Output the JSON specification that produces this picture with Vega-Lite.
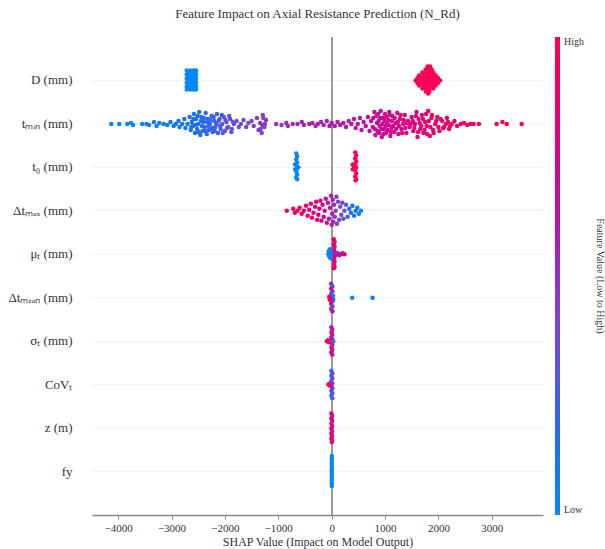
{
"$schema": "https://vega.github.io/schema/vega-lite/v6.json",
"width": 451,
"height": 478,
"autosize": {"type": "none"},
"padding": {"left": 92, "top": 37, "right": 62, "bottom": 34},
"config": {
  "font": "Liberation Serif",
  "view": {"stroke": null},
  "axis": {"labelFont": "Liberation Serif", "titleFont": "Liberation Serif"},
  "legend": {"labelFont": "Liberation Serif", "titleFont": "Liberation Serif"},
  "title": {"font": "Liberation Serif", "fontSize": 13, "fontWeight": "normal", "color": "#333", "offset": 16}
},
"title": {"text": "Feature Impact on Axial Resistance Prediction (N_Rd)", "anchor": "middle"},
"data": {"values": [
{"f":"D","s":-2715,"j":-10,"v":0.02},{"f":"D","s":-2715,"j":-6,"v":0.03},{"f":"D","s":-2715,"j":-2,"v":0.01},{"f":"D","s":-2715,"j":2,"v":0.02},{"f":"D","s":-2715,"j":6,"v":0.04},{"f":"D","s":-2715,"j":9,"v":0.02},
{"f":"D","s":-2650,"j":-10,"v":0.03},{"f":"D","s":-2650,"j":-6,"v":0.02},{"f":"D","s":-2650,"j":-2,"v":0.04},{"f":"D","s":-2650,"j":2,"v":0.01},{"f":"D","s":-2650,"j":6,"v":0.02},{"f":"D","s":-2650,"j":9,"v":0.03},
{"f":"D","s":-2585,"j":-10,"v":0.02},{"f":"D","s":-2585,"j":-6,"v":0.01},{"f":"D","s":-2585,"j":-2,"v":0.03},{"f":"D","s":-2585,"j":2,"v":0.02},{"f":"D","s":-2585,"j":6,"v":0.04},{"f":"D","s":-2585,"j":9,"v":0.02},
{"f":"D","s":-2540,"j":-10,"v":0.03},{"f":"D","s":-2540,"j":-6,"v":0.02},{"f":"D","s":-2540,"j":-2,"v":0.02},{"f":"D","s":-2540,"j":2,"v":0.03},{"f":"D","s":-2540,"j":6,"v":0.01},{"f":"D","s":-2540,"j":9,"v":0.02},
{"f":"D","s":-2682,"j":-8,"v":0.02},{"f":"D","s":-2682,"j":-4,"v":0.03},{"f":"D","s":-2682,"j":0,"v":0.02},{"f":"D","s":-2682,"j":4,"v":0.01},{"f":"D","s":-2682,"j":8,"v":0.03},
{"f":"D","s":-2617,"j":-8,"v":0.02},{"f":"D","s":-2617,"j":-4,"v":0.01},{"f":"D","s":-2617,"j":0,"v":0.03},{"f":"D","s":-2617,"j":4,"v":0.02},{"f":"D","s":-2617,"j":8,"v":0.02},
{"f":"D","s":-2560,"j":-8,"v":0.03},{"f":"D","s":-2560,"j":-4,"v":0.02},{"f":"D","s":-2560,"j":0,"v":0.01},{"f":"D","s":-2560,"j":4,"v":0.03},{"f":"D","s":-2560,"j":8,"v":0.02},
{"f":"D","s":1800,"j":-14,"v":0.97},{"f":"D","s":1845,"j":-14,"v":0.98},
{"f":"D","s":1760,"j":-11,"v":0.97},{"f":"D","s":1820,"j":-11,"v":0.98},{"f":"D","s":1875,"j":-11,"v":0.97},
{"f":"D","s":1700,"j":-8,"v":0.98},{"f":"D","s":1770,"j":-8,"v":0.97},{"f":"D","s":1840,"j":-8,"v":0.98},{"f":"D","s":1905,"j":-8,"v":0.97},
{"f":"D","s":1640,"j":-5,"v":0.97},{"f":"D","s":1720,"j":-5,"v":0.98},{"f":"D","s":1800,"j":-5,"v":0.97},{"f":"D","s":1880,"j":-5,"v":0.98},{"f":"D","s":1950,"j":-5,"v":0.97},
{"f":"D","s":1610,"j":-2.5,"v":0.98},{"f":"D","s":1690,"j":-2.5,"v":0.97},{"f":"D","s":1765,"j":-2.5,"v":0.98},{"f":"D","s":1840,"j":-2.5,"v":0.97},{"f":"D","s":1915,"j":-2.5,"v":0.98},{"f":"D","s":1990,"j":-2.5,"v":0.97},
{"f":"D","s":1575,"j":0,"v":0.97},{"f":"D","s":1650,"j":0,"v":0.98},{"f":"D","s":1725,"j":0,"v":0.97},{"f":"D","s":1800,"j":0,"v":0.98},{"f":"D","s":1875,"j":0,"v":0.97},{"f":"D","s":1950,"j":0,"v":0.98},{"f":"D","s":2035,"j":0,"v":0.97},
{"f":"D","s":1610,"j":2.5,"v":0.97},{"f":"D","s":1690,"j":2.5,"v":0.98},{"f":"D","s":1765,"j":2.5,"v":0.97},{"f":"D","s":1840,"j":2.5,"v":0.98},{"f":"D","s":1915,"j":2.5,"v":0.97},{"f":"D","s":1990,"j":2.5,"v":0.98},
{"f":"D","s":1640,"j":5,"v":0.98},{"f":"D","s":1720,"j":5,"v":0.97},{"f":"D","s":1800,"j":5,"v":0.98},{"f":"D","s":1880,"j":5,"v":0.97},{"f":"D","s":1950,"j":5,"v":0.98},
{"f":"D","s":1700,"j":8,"v":0.97},{"f":"D","s":1770,"j":8,"v":0.98},{"f":"D","s":1840,"j":8,"v":0.97},{"f":"D","s":1905,"j":8,"v":0.98},
{"f":"D","s":1765,"j":11,"v":0.97},{"f":"D","s":1830,"j":11,"v":0.98},{"f":"D","s":1810,"j":13,"v":0.97},
{"f":"tmin","s":-4130,"j":0,"v":0.02},{"f":"tmin","s":-3980,"j":0,"v":0.03},{"f":"tmin","s":-3830,"j":0,"v":0.03},{"f":"tmin","s":-3760,"j":-1,"v":0.04},{"f":"tmin","s":-3720,"j":1,"v":0.04},{"f":"tmin","s":-3550,"j":0,"v":0.05},{"f":"tmin","s":-3470,"j":0,"v":0.05},{"f":"tmin","s":-3420,"j":1,"v":0.06},{"f":"tmin","s":-3330,"j":-2,"v":0.06},{"f":"tmin","s":-3280,"j":2,"v":0.07},{"f":"tmin","s":-3230,"j":-1,"v":0.07},{"f":"tmin","s":-3150,"j":0,"v":0.08},{"f":"tmin","s":-3080,"j":1,"v":0.08},{"f":"tmin","s":-3020,"j":-2,"v":0.09},{"f":"tmin","s":-2960,"j":2,"v":0.09},{"f":"tmin","s":-2920,"j":0,"v":0.1},
{"f":"tmin","s":-2870,"j":-3,"v":0.1},{"f":"tmin","s":-2850,"j":3,"v":0.1},{"f":"tmin","s":-2800,"j":0,"v":0.11},{"f":"tmin","s":-2760,"j":-5,"v":0.11},{"f":"tmin","s":-2740,"j":4,"v":0.12},{"f":"tmin","s":-2700,"j":0,"v":0.12},{"f":"tmin","s":-2660,"j":-7,"v":0.13},{"f":"tmin","s":-2640,"j":6,"v":0.13},{"f":"tmin","s":-2620,"j":-2,"v":0.14},{"f":"tmin","s":-2600,"j":2,"v":0.13},{"f":"tmin","s":-2580,"j":-10,"v":0.14},{"f":"tmin","s":-2560,"j":9,"v":0.15},{"f":"tmin","s":-2540,"j":-5,"v":0.15},{"f":"tmin","s":-2520,"j":5,"v":0.14},{"f":"tmin","s":-2500,"j":0,"v":0.16},{"f":"tmin","s":-2480,"j":-12,"v":0.16},{"f":"tmin","s":-2460,"j":11,"v":0.17},{"f":"tmin","s":-2440,"j":-7,"v":0.17},{"f":"tmin","s":-2420,"j":7,"v":0.18},{"f":"tmin","s":-2400,"j":-2,"v":0.16},{"f":"tmin","s":-2380,"j":3,"v":0.18},{"f":"tmin","s":-2360,"j":-11,"v":0.19},{"f":"tmin","s":-2340,"j":10,"v":0.2},{"f":"tmin","s":-2320,"j":-5,"v":0.19},{"f":"tmin","s":-2300,"j":6,"v":0.2},{"f":"tmin","s":-2280,"j":0,"v":0.21},{"f":"tmin","s":-2250,"j":-8,"v":0.22},{"f":"tmin","s":-2230,"j":8,"v":0.22},{"f":"tmin","s":-2200,"j":-3,"v":0.23},{"f":"tmin","s":-2180,"j":3,"v":0.24},{"f":"tmin","s":-2150,"j":-10,"v":0.25},{"f":"tmin","s":-2130,"j":9,"v":0.25},{"f":"tmin","s":-2100,"j":-5,"v":0.26},{"f":"tmin","s":-2080,"j":5,"v":0.27},{"f":"tmin","s":-2050,"j":0,"v":0.28},{"f":"tmin","s":-2020,"j":-7,"v":0.28},{"f":"tmin","s":-2000,"j":7,"v":0.29},{"f":"tmin","s":-1970,"j":-2,"v":0.3},{"f":"tmin","s":-1940,"j":3,"v":0.31},{"f":"tmin","s":-1900,"j":-5,"v":0.32},{"f":"tmin","s":-1870,"j":5,"v":0.33},{"f":"tmin","s":-1830,"j":0,"v":0.34},{"f":"tmin","s":-1780,"j":-3,"v":0.35},{"f":"tmin","s":-1740,"j":3,"v":0.35},{"f":"tmin","s":-1700,"j":0,"v":0.36},{"f":"tmin","s":-1650,"j":-4,"v":0.37},{"f":"tmin","s":-1600,"j":3,"v":0.38},{"f":"tmin","s":-1560,"j":-1,"v":0.38},{"f":"tmin","s":-1500,"j":-3,"v":0.4},{"f":"tmin","s":-1460,"j":2,"v":0.4},{"f":"tmin","s":-1400,"j":-6,"v":0.41},{"f":"tmin","s":-1370,"j":6,"v":0.42},{"f":"tmin","s":-1340,"j":-1,"v":0.42},{"f":"tmin","s":-1310,"j":9,"v":0.43},{"f":"tmin","s":-1290,"j":-9,"v":0.43},{"f":"tmin","s":-1260,"j":3,"v":0.44},{"f":"tmin","s":-1230,"j":-4,"v":0.45},
{"f":"tmin","s":-2630,"j":3,"v":0.13},{"f":"tmin","s":-2590,"j":-5,"v":0.14},{"f":"tmin","s":-2550,"j":1,"v":0.15},{"f":"tmin","s":-2510,"j":-8,"v":0.15},{"f":"tmin","s":-2490,"j":8,"v":0.16},{"f":"tmin","s":-2450,"j":-3,"v":0.17},{"f":"tmin","s":-2430,"j":2,"v":0.17},{"f":"tmin","s":-2390,"j":-6,"v":0.18},{"f":"tmin","s":-2370,"j":7,"v":0.18},{"f":"tmin","s":-2330,"j":-2,"v":0.19},{"f":"tmin","s":-2310,"j":2,"v":0.2},{"f":"tmin","s":-2270,"j":-4,"v":0.21},{"f":"tmin","s":-2240,"j":4,"v":0.22},{"f":"tmin","s":-2210,"j":-7,"v":0.23},{"f":"tmin","s":-2190,"j":7,"v":0.23},{"f":"tmin","s":-2160,"j":0,"v":0.24},{"f":"tmin","s":-2120,"j":-3,"v":0.25},{"f":"tmin","s":-2090,"j":2,"v":0.26},{"f":"tmin","s":-2060,"j":-9,"v":0.27},{"f":"tmin","s":-2040,"j":9,"v":0.28},{"f":"tmin","s":-1990,"j":-4,"v":0.29},{"f":"tmin","s":-1960,"j":4,"v":0.3},{"f":"tmin","s":-1920,"j":-8,"v":0.31},{"f":"tmin","s":-1880,"j":8,"v":0.32},{"f":"tmin","s":-1850,"j":-2,"v":0.33},{"f":"tmin","s":-1330,"j":5,"v":0.42},{"f":"tmin","s":-1280,"j":-6,"v":0.43},{"f":"tmin","s":-1250,"j":0,"v":0.44},{"f":"tmin","s":-1300,"j":1,"v":0.43},
{"f":"tmin","s":-1040,"j":0,"v":0.48},{"f":"tmin","s":-940,"j":1,"v":0.49},{"f":"tmin","s":-850,"j":-1,"v":0.5},{"f":"tmin","s":-820,"j":2,"v":0.5},{"f":"tmin","s":-730,"j":0,"v":0.51},{"f":"tmin","s":-640,"j":0,"v":0.52},{"f":"tmin","s":-560,"j":-2,"v":0.53},{"f":"tmin","s":-520,"j":1,"v":0.53},{"f":"tmin","s":-420,"j":0,"v":0.54},{"f":"tmin","s":-360,"j":-1,"v":0.55},{"f":"tmin","s":-300,"j":2,"v":0.55},{"f":"tmin","s":-260,"j":0,"v":0.56},{"f":"tmin","s":-200,"j":-2,"v":0.57},{"f":"tmin","s":-150,"j":1,"v":0.57},{"f":"tmin","s":-90,"j":-3,"v":0.58},{"f":"tmin","s":-40,"j":2,"v":0.58},{"f":"tmin","s":0,"j":-1,"v":0.59},
{"f":"tmin","s":60,"j":2,"v":0.6},{"f":"tmin","s":110,"j":-2,"v":0.6},{"f":"tmin","s":160,"j":1,"v":0.61},{"f":"tmin","s":220,"j":-1,"v":0.61},{"f":"tmin","s":270,"j":3,"v":0.62},{"f":"tmin","s":320,"j":-3,"v":0.62},{"f":"tmin","s":370,"j":0,"v":0.63},{"f":"tmin","s":420,"j":-5,"v":0.63},{"f":"tmin","s":450,"j":4,"v":0.64},{"f":"tmin","s":490,"j":0,"v":0.64},{"f":"tmin","s":530,"j":-6,"v":0.65},{"f":"tmin","s":560,"j":6,"v":0.65},{"f":"tmin","s":600,"j":-2,"v":0.66},{"f":"tmin","s":640,"j":2,"v":0.66},{"f":"tmin","s":680,"j":-7,"v":0.67},{"f":"tmin","s":710,"j":7,"v":0.67},{"f":"tmin","s":740,"j":-3,"v":0.68},{"f":"tmin","s":770,"j":3,"v":0.68},{"f":"tmin","s":800,"j":-12,"v":0.69},{"f":"tmin","s":820,"j":11,"v":0.69},{"f":"tmin","s":840,"j":-8,"v":0.7},{"f":"tmin","s":860,"j":7,"v":0.7},{"f":"tmin","s":880,"j":-3,"v":0.71},{"f":"tmin","s":900,"j":2,"v":0.71},{"f":"tmin","s":920,"j":-13,"v":0.72},{"f":"tmin","s":940,"j":13,"v":0.72},{"f":"tmin","s":960,"j":-6,"v":0.73},{"f":"tmin","s":980,"j":5,"v":0.73},{"f":"tmin","s":1000,"j":-10,"v":0.74},{"f":"tmin","s":1020,"j":9,"v":0.74},{"f":"tmin","s":1040,"j":0,"v":0.75},{"f":"tmin","s":1060,"j":-4,"v":0.75},{"f":"tmin","s":1080,"j":-12,"v":0.76},{"f":"tmin","s":1100,"j":12,"v":0.76},{"f":"tmin","s":1120,"j":4,"v":0.76},{"f":"tmin","s":1140,"j":-8,"v":0.77},{"f":"tmin","s":1170,"j":8,"v":0.77},{"f":"tmin","s":1200,"j":-1,"v":0.78},{"f":"tmin","s":1230,"j":-11,"v":0.78},{"f":"tmin","s":1250,"j":10,"v":0.78},{"f":"tmin","s":1280,"j":-5,"v":0.79},{"f":"tmin","s":1310,"j":5,"v":0.79},{"f":"tmin","s":1340,"j":0,"v":0.8},{"f":"tmin","s":1370,"j":-9,"v":0.8},{"f":"tmin","s":1400,"j":9,"v":0.8},{"f":"tmin","s":1430,"j":-3,"v":0.81},{"f":"tmin","s":1460,"j":3,"v":0.81},{"f":"tmin","s":1500,"j":-7,"v":0.82},{"f":"tmin","s":1530,"j":7,"v":0.82},{"f":"tmin","s":1560,"j":0,"v":0.83},{"f":"tmin","s":1590,"j":-12,"v":0.83},{"f":"tmin","s":1610,"j":13,"v":0.84},{"f":"tmin","s":1630,"j":-5,"v":0.84},{"f":"tmin","s":1660,"j":5,"v":0.84},{"f":"tmin","s":1690,"j":-9,"v":0.85},{"f":"tmin","s":1720,"j":9,"v":0.85},{"f":"tmin","s":1750,"j":-2,"v":0.86},{"f":"tmin","s":1780,"j":2,"v":0.86},{"f":"tmin","s":1810,"j":-13,"v":0.87},{"f":"tmin","s":1840,"j":12,"v":0.87},{"f":"tmin","s":1870,"j":-6,"v":0.87},{"f":"tmin","s":1900,"j":6,"v":0.88},{"f":"tmin","s":1940,"j":0,"v":0.88},{"f":"tmin","s":1980,"j":-7,"v":0.89},{"f":"tmin","s":2020,"j":7,"v":0.89},{"f":"tmin","s":2070,"j":-3,"v":0.9},{"f":"tmin","s":2110,"j":3,"v":0.9},{"f":"tmin","s":2160,"j":-6,"v":0.91},{"f":"tmin","s":2200,"j":5,"v":0.91},{"f":"tmin","s":2250,"j":0,"v":0.92},{"f":"tmin","s":2300,"j":-3,"v":0.92},{"f":"tmin","s":2350,"j":2,"v":0.93},{"f":"tmin","s":2420,"j":0,"v":0.93},{"f":"tmin","s":2480,"j":-1,"v":0.94},{"f":"tmin","s":2540,"j":1,"v":0.94},{"f":"tmin","s":2600,"j":0,"v":0.95},{"f":"tmin","s":2660,"j":0,"v":0.95},{"f":"tmin","s":2760,"j":0,"v":0.96},{"f":"tmin","s":3090,"j":0,"v":0.97},{"f":"tmin","s":3200,"j":-2,"v":0.97},{"f":"tmin","s":3280,"j":0,"v":0.98},{"f":"tmin","s":3560,"j":0,"v":0.99},
{"f":"tmin","s":780,"j":-6,"v":0.68},{"f":"tmin","s":810,"j":5,"v":0.69},{"f":"tmin","s":850,"j":-1,"v":0.7},{"f":"tmin","s":870,"j":-10,"v":0.7},{"f":"tmin","s":890,"j":9,"v":0.71},{"f":"tmin","s":910,"j":-6,"v":0.71},{"f":"tmin","s":930,"j":5,"v":0.72},{"f":"tmin","s":950,"j":0,"v":0.72},{"f":"tmin","s":970,"j":10,"v":0.73},{"f":"tmin","s":990,"j":-3,"v":0.73},{"f":"tmin","s":1010,"j":2,"v":0.74},{"f":"tmin","s":1030,"j":-7,"v":0.74},{"f":"tmin","s":1050,"j":6,"v":0.75},{"f":"tmin","s":1070,"j":1,"v":0.75},{"f":"tmin","s":1090,"j":-9,"v":0.76},{"f":"tmin","s":1110,"j":8,"v":0.76},{"f":"tmin","s":1130,"j":-3,"v":0.76},{"f":"tmin","s":1150,"j":2,"v":0.77},{"f":"tmin","s":1180,"j":-6,"v":0.77},{"f":"tmin","s":1210,"j":5,"v":0.78},{"f":"tmin","s":1240,"j":-2,"v":0.78},{"f":"tmin","s":1260,"j":2,"v":0.78},{"f":"tmin","s":1290,"j":-9,"v":0.79},{"f":"tmin","s":1320,"j":9,"v":0.79},{"f":"tmin","s":1350,"j":-4,"v":0.8},{"f":"tmin","s":1380,"j":4,"v":0.8},{"f":"tmin","s":1410,"j":-1,"v":0.8},{"f":"tmin","s":1480,"j":0,"v":0.82},{"f":"tmin","s":1520,"j":-3,"v":0.82},{"f":"tmin","s":1550,"j":4,"v":0.83},{"f":"tmin","s":1580,"j":-8,"v":0.83},{"f":"tmin","s":1620,"j":8,"v":0.84},{"f":"tmin","s":1650,"j":-1,"v":0.84},{"f":"tmin","s":1680,"j":2,"v":0.85},{"f":"tmin","s":1710,"j":-5,"v":0.85},{"f":"tmin","s":1740,"j":6,"v":0.85},{"f":"tmin","s":1770,"j":-10,"v":0.86},{"f":"tmin","s":1790,"j":10,"v":0.86},{"f":"tmin","s":1820,"j":-3,"v":0.87},{"f":"tmin","s":1850,"j":3,"v":0.87},{"f":"tmin","s":1880,"j":-9,"v":0.87},{"f":"tmin","s":1910,"j":9,"v":0.88},{"f":"tmin","s":1960,"j":-3,"v":0.88},{"f":"tmin","s":2000,"j":3,"v":0.89},{"f":"tmin","s":2040,"j":-5,"v":0.89},{"f":"tmin","s":2090,"j":4,"v":0.9},{"f":"tmin","s":2140,"j":0,"v":0.9},{"f":"tmin","s":2180,"j":-2,"v":0.91},{"f":"tmin","s":2220,"j":2,"v":0.91},
{"f":"t0","s":-663,"j":-14,"v":0.03},{"f":"t0","s":-647,"j":-11,"v":0.03},{"f":"t0","s":-663,"j":-8,"v":0.03},{"f":"t0","s":-647,"j":-5,"v":0.03},{"f":"t0","s":-663,"j":-2,"v":0.03},{"f":"t0","s":-647,"j":1,"v":0.03},{"f":"t0","s":-663,"j":4,"v":0.03},{"f":"t0","s":-647,"j":7,"v":0.03},{"f":"t0","s":-663,"j":10,"v":0.03},{"f":"t0","s":-647,"j":12,"v":0.03},{"f":"t0","s":-685,"j":-3,"v":0.03},{"f":"t0","s":-685,"j":2,"v":0.03},{"f":"t0","s":-625,"j":0,"v":0.03},
{"f":"t0","s":442,"j":-15,"v":0.97},{"f":"t0","s":460,"j":-12,"v":0.97},{"f":"t0","s":442,"j":-9,"v":0.97},{"f":"t0","s":460,"j":-6,"v":0.97},{"f":"t0","s":442,"j":-3,"v":0.97},{"f":"t0","s":460,"j":0,"v":0.97},{"f":"t0","s":442,"j":3,"v":0.97},{"f":"t0","s":460,"j":6,"v":0.97},{"f":"t0","s":442,"j":9,"v":0.97},{"f":"t0","s":460,"j":12,"v":0.97},{"f":"t0","s":448,"j":13,"v":0.97},{"f":"t0","s":395,"j":-3,"v":0.97},{"f":"t0","s":395,"j":2,"v":0.97},{"f":"t0","s":415,"j":-1,"v":0.97},
{"f":"dtmax","s":-840,"j":0,"v":0.98},{"f":"dtmax","s":-720,"j":-2,"v":0.95},{"f":"dtmax","s":-690,"j":2,"v":0.95},{"f":"dtmax","s":-640,"j":0,"v":0.94},{"f":"dtmax","s":-600,"j":-3,"v":0.93},{"f":"dtmax","s":-560,"j":3,"v":0.93},{"f":"dtmax","s":-520,"j":0,"v":0.92},{"f":"dtmax","s":-480,"j":-5,"v":0.9},{"f":"dtmax","s":-450,"j":5,"v":0.9},{"f":"dtmax","s":-420,"j":-1,"v":0.88},{"f":"dtmax","s":-390,"j":-7,"v":0.87},{"f":"dtmax","s":-370,"j":7,"v":0.86},{"f":"dtmax","s":-340,"j":2,"v":0.85},{"f":"dtmax","s":-310,"j":-4,"v":0.83},{"f":"dtmax","s":-290,"j":-9,"v":0.82},{"f":"dtmax","s":-270,"j":9,"v":0.81},{"f":"dtmax","s":-250,"j":4,"v":0.8},{"f":"dtmax","s":-230,"j":-2,"v":0.78},{"f":"dtmax","s":-210,"j":-10,"v":0.77},{"f":"dtmax","s":-190,"j":10,"v":0.76},{"f":"dtmax","s":-170,"j":-6,"v":0.74},{"f":"dtmax","s":-150,"j":6,"v":0.73},{"f":"dtmax","s":-130,"j":0,"v":0.71},{"f":"dtmax","s":-110,"j":-12,"v":0.69},{"f":"dtmax","s":-90,"j":12,"v":0.68},{"f":"dtmax","s":-70,"j":-8,"v":0.66},{"f":"dtmax","s":-50,"j":8,"v":0.64},{"f":"dtmax","s":-30,"j":-3,"v":0.62},{"f":"dtmax","s":-10,"j":-15,"v":0.6},{"f":"dtmax","s":0,"j":14,"v":0.58},{"f":"dtmax","s":10,"j":3,"v":0.56},{"f":"dtmax","s":20,"j":-11,"v":0.55},{"f":"dtmax","s":30,"j":11,"v":0.53},{"f":"dtmax","s":45,"j":-6,"v":0.51},{"f":"dtmax","s":60,"j":6,"v":0.49},{"f":"dtmax","s":75,"j":0,"v":0.47},{"f":"dtmax","s":90,"j":-14,"v":0.45},{"f":"dtmax","s":100,"j":13,"v":0.44},{"f":"dtmax","s":120,"j":-9,"v":0.42},{"f":"dtmax","s":140,"j":9,"v":0.4},{"f":"dtmax","s":160,"j":-4,"v":0.38},{"f":"dtmax","s":180,"j":4,"v":0.36},{"f":"dtmax","s":200,"j":-8,"v":0.34},{"f":"dtmax","s":220,"j":8,"v":0.32},{"f":"dtmax","s":240,"j":0,"v":0.3},{"f":"dtmax","s":270,"j":-6,"v":0.27},{"f":"dtmax","s":300,"j":6,"v":0.24},{"f":"dtmax","s":330,"j":-2,"v":0.2},{"f":"dtmax","s":360,"j":2,"v":0.17},{"f":"dtmax","s":390,"j":-5,"v":0.14},{"f":"dtmax","s":420,"j":5,"v":0.12},{"f":"dtmax","s":450,"j":0,"v":0.1},{"f":"dtmax","s":480,"j":-3,"v":0.08},{"f":"dtmax","s":510,"j":3,"v":0.06},{"f":"dtmax","s":550,"j":0,"v":0.04},
{"f":"mu","s":40,"j":-15,"v":0.95},{"f":"mu","s":55,"j":-12.5,"v":0.9},{"f":"mu","s":40,"j":-10,"v":0.95},{"f":"mu","s":55,"j":-7.5,"v":0.6},{"f":"mu","s":40,"j":-5,"v":0.95},{"f":"mu","s":55,"j":-2.5,"v":0.9},{"f":"mu","s":40,"j":0,"v":0.95},{"f":"mu","s":55,"j":2.5,"v":0.92},{"f":"mu","s":40,"j":5,"v":0.95},{"f":"mu","s":55,"j":7.5,"v":0.6},{"f":"mu","s":40,"j":10,"v":0.95},{"f":"mu","s":55,"j":12.5,"v":0.9},{"f":"mu","s":40,"j":14,"v":0.95},
{"f":"mu","s":-55,"j":-3,"v":0.03},{"f":"mu","s":-45,"j":2,"v":0.05},{"f":"mu","s":-30,"j":-5,"v":0.04},{"f":"mu","s":-20,"j":4,"v":0.03},{"f":"mu","s":-10,"j":-1,"v":0.05},{"f":"mu","s":-60,"j":0,"v":0.04},
{"f":"mu","s":85,"j":0,"v":0.6},{"f":"mu","s":110,"j":-1,"v":0.55},{"f":"mu","s":140,"j":1,"v":0.6},{"f":"mu","s":175,"j":0,"v":0.62},{"f":"mu","s":205,"j":-1,"v":0.7},{"f":"mu","s":240,"j":0,"v":0.8},
{"f":"dtmean","s":-10,"j":-14,"v":0.55},{"f":"dtmean","s":15,"j":-11.5,"v":0.15},{"f":"dtmean","s":-10,"j":-9,"v":0.9},{"f":"dtmean","s":15,"j":-6.5,"v":0.5},{"f":"dtmean","s":-10,"j":-4,"v":0.2},{"f":"dtmean","s":15,"j":-1.5,"v":0.85},{"f":"dtmean","s":-10,"j":1,"v":0.6},{"f":"dtmean","s":15,"j":3.5,"v":0.1},{"f":"dtmean","s":-10,"j":6,"v":0.95},{"f":"dtmean","s":15,"j":8.5,"v":0.45},{"f":"dtmean","s":-10,"j":11,"v":0.25},{"f":"dtmean","s":15,"j":13.5,"v":0.8},{"f":"dtmean","s":25,"j":-2,"v":0.1},{"f":"dtmean","s":30,"j":2,"v":0.2},{"f":"dtmean","s":-45,"j":-1,"v":0.95},{"f":"dtmean","s":-35,"j":2,"v":0.9},{"f":"dtmean","s":-25,"j":0,"v":0.92},{"f":"dtmean","s":386,"j":0,"v":0.05},{"f":"dtmean","s":767,"j":0,"v":0.05},
{"f":"sig","s":-5,"j":-14,"v":0.6},{"f":"sig","s":12,"j":-11.5,"v":0.85},{"f":"sig","s":-5,"j":-9,"v":0.5},{"f":"sig","s":12,"j":-6.5,"v":0.9},{"f":"sig","s":-5,"j":-4,"v":0.55},{"f":"sig","s":12,"j":-1.5,"v":0.8},{"f":"sig","s":-5,"j":1,"v":0.65},{"f":"sig","s":12,"j":3.5,"v":0.9},{"f":"sig","s":-5,"j":6,"v":0.5},{"f":"sig","s":12,"j":8.5,"v":0.75},{"f":"sig","s":-5,"j":11,"v":0.85},{"f":"sig","s":12,"j":13.5,"v":0.6},{"f":"sig","s":-90,"j":0,"v":0.95},{"f":"sig","s":-70,"j":-1,"v":0.95},{"f":"sig","s":-50,"j":1,"v":0.92},{"f":"sig","s":-30,"j":0,"v":0.9},{"f":"sig","s":30,"j":0,"v":0.05},
{"f":"cov","s":-5,"j":-14,"v":0.1},{"f":"cov","s":12,"j":-11.5,"v":0.45},{"f":"cov","s":-5,"j":-9,"v":0.2},{"f":"cov","s":12,"j":-6.5,"v":0.5},{"f":"cov","s":-5,"j":-4,"v":0.05},{"f":"cov","s":12,"j":-1.5,"v":0.4},{"f":"cov","s":-5,"j":1,"v":0.25},{"f":"cov","s":12,"j":3.5,"v":0.55},{"f":"cov","s":-5,"j":6,"v":0.15},{"f":"cov","s":12,"j":8.5,"v":0.45},{"f":"cov","s":-5,"j":11,"v":0.1},{"f":"cov","s":12,"j":13.5,"v":0.35},{"f":"cov","s":-60,"j":0,"v":0.95},{"f":"cov","s":-45,"j":-1,"v":0.9},{"f":"cov","s":-30,"j":1,"v":0.92},
{"f":"z","s":-5,"j":-14.5,"v":0.9},{"f":"z","s":10,"j":-12,"v":0.6},{"f":"z","s":-5,"j":-9.5,"v":0.95},{"f":"z","s":10,"j":-7,"v":0.7},{"f":"z","s":-5,"j":-4.5,"v":0.5},{"f":"z","s":10,"j":-2,"v":0.85},{"f":"z","s":-5,"j":0.5,"v":0.95},{"f":"z","s":10,"j":3,"v":0.55},{"f":"z","s":-5,"j":5.5,"v":0.9},{"f":"z","s":10,"j":8,"v":0.75},{"f":"z","s":-5,"j":10.5,"v":0.6},{"f":"z","s":10,"j":13,"v":0.95},{"f":"z","s":2,"j":14,"v":0.9},
{"f":"fy","s":3,"j":-15.5,"v":0.02},{"f":"fy","s":3,"j":-13,"v":0.02},{"f":"fy","s":3,"j":-10.5,"v":0.02},{"f":"fy","s":3,"j":-8,"v":0.02},{"f":"fy","s":3,"j":-5.5,"v":0.02},{"f":"fy","s":3,"j":-3,"v":0.02},{"f":"fy","s":3,"j":-0.5,"v":0.02},{"f":"fy","s":3,"j":2,"v":0.02},{"f":"fy","s":3,"j":4.5,"v":0.02},{"f":"fy","s":3,"j":7,"v":0.02},{"f":"fy","s":3,"j":9.5,"v":0.02},{"f":"fy","s":3,"j":12,"v":0.02},{"f":"fy","s":3,"j":14.5,"v":0.02}
]},
"layer": [
  {
    "mark": {"type": "rule", "color": "#999999", "strokeWidth": 1},
    "encoding": {"x": {"datum": 0, "type": "quantitative"}}
  },
  {
    "mark": {"type": "circle", "size": 20, "opacity": 1},
    "encoding": {
      "x": {
        "field": "s", "type": "quantitative",
        "scale": {"domain": [-4490, 3960], "nice": false, "zero": false},
        "axis": {
          "title": "SHAP Value (Impact on Model Output)",
          "values": [-4000, -3000, -2000, -1000, 0, 1000, 2000, 3000],
          "format": "d",
          "grid": false,
          "domainColor": "#888888", "domainWidth": 1.5,
          "tickColor": "#888888", "tickSize": 4,
          "labelFont": "Liberation Serif", "labelFontSize": 11, "labelColor": "#333333", "labelPadding": 3,
          "titleFont": "Liberation Serif", "titleFontSize": 12, "titleFontWeight": "normal", "titleColor": "#333333", "titlePadding": 3
        }
      },
      "y": {
        "field": "f", "type": "nominal",
        "sort": ["D", "tmin", "t0", "dtmax", "mu", "dtmean", "sig", "cov", "z", "fy"],
        "scale": {"type": "band", "paddingInner": 0, "paddingOuter": 0.5},
        "axis": {
          "title": null, "domain": false, "ticks": false,
          "grid": true, "bandPosition": 0.5, "gridDash": [1, 3], "gridColor": "#cccccc",
          "labelFont": "Liberation Serif", "labelFontSize": 13, "labelColor": "#333333", "labelPadding": 20,
          "labelExpr": "datum.value=='D'?'D (mm)':datum.value=='tmin'?'tₘᵢₙ (mm)':datum.value=='t0'?'t₀ (mm)':datum.value=='dtmax'?'Δtₘₐₓ (mm)':datum.value=='mu'?'μₜ (mm)':datum.value=='dtmean'?'Δtₘₑₐₙ (mm)':datum.value=='sig'?'σₜ (mm)':datum.value=='cov'?'CoVₜ':datum.value=='z'?'z (m)':'fy'"
        }
      },
      "yOffset": {
        "field": "j", "type": "quantitative",
        "scale": {"domain": [-21.727, 21.727], "range": [0, 43.4545]}
      },
      "color": {
        "field": "v", "type": "quantitative",
        "scale": {
          "domain": [0, 0.15, 0.3, 0.45, 0.6, 0.8, 1],
          "range": ["#008bfb", "#1a6ff0", "#5a55e0", "#8a3acb", "#b414b0", "#e0007f", "#ff0051"],
          "interpolate": "rgb"
        },
        "legend": {
          "orient": "none", "legendX": 463, "legendY": 0,
          "direction": "vertical",
          "gradientLength": 478, "gradientThickness": 5, "gradientStrokeWidth": 0,
          "values": [0, 1],
          "labelExpr": "datum.value >= 1 ? 'High' : 'Low'",
          "labelFont": "Liberation Serif", "labelFontSize": 10, "labelColor": "#333333", "labelOffset": 4,
          "title": "Feature Value (Low to High)",
          "titleOrient": "right", "titleAngle": 270, "titlePadding": 11,
          "titleFont": "Liberation Serif", "titleFontSize": 10, "titleFontWeight": "normal", "titleColor": "#333333"
        }
      }
    }
  }
]
}
